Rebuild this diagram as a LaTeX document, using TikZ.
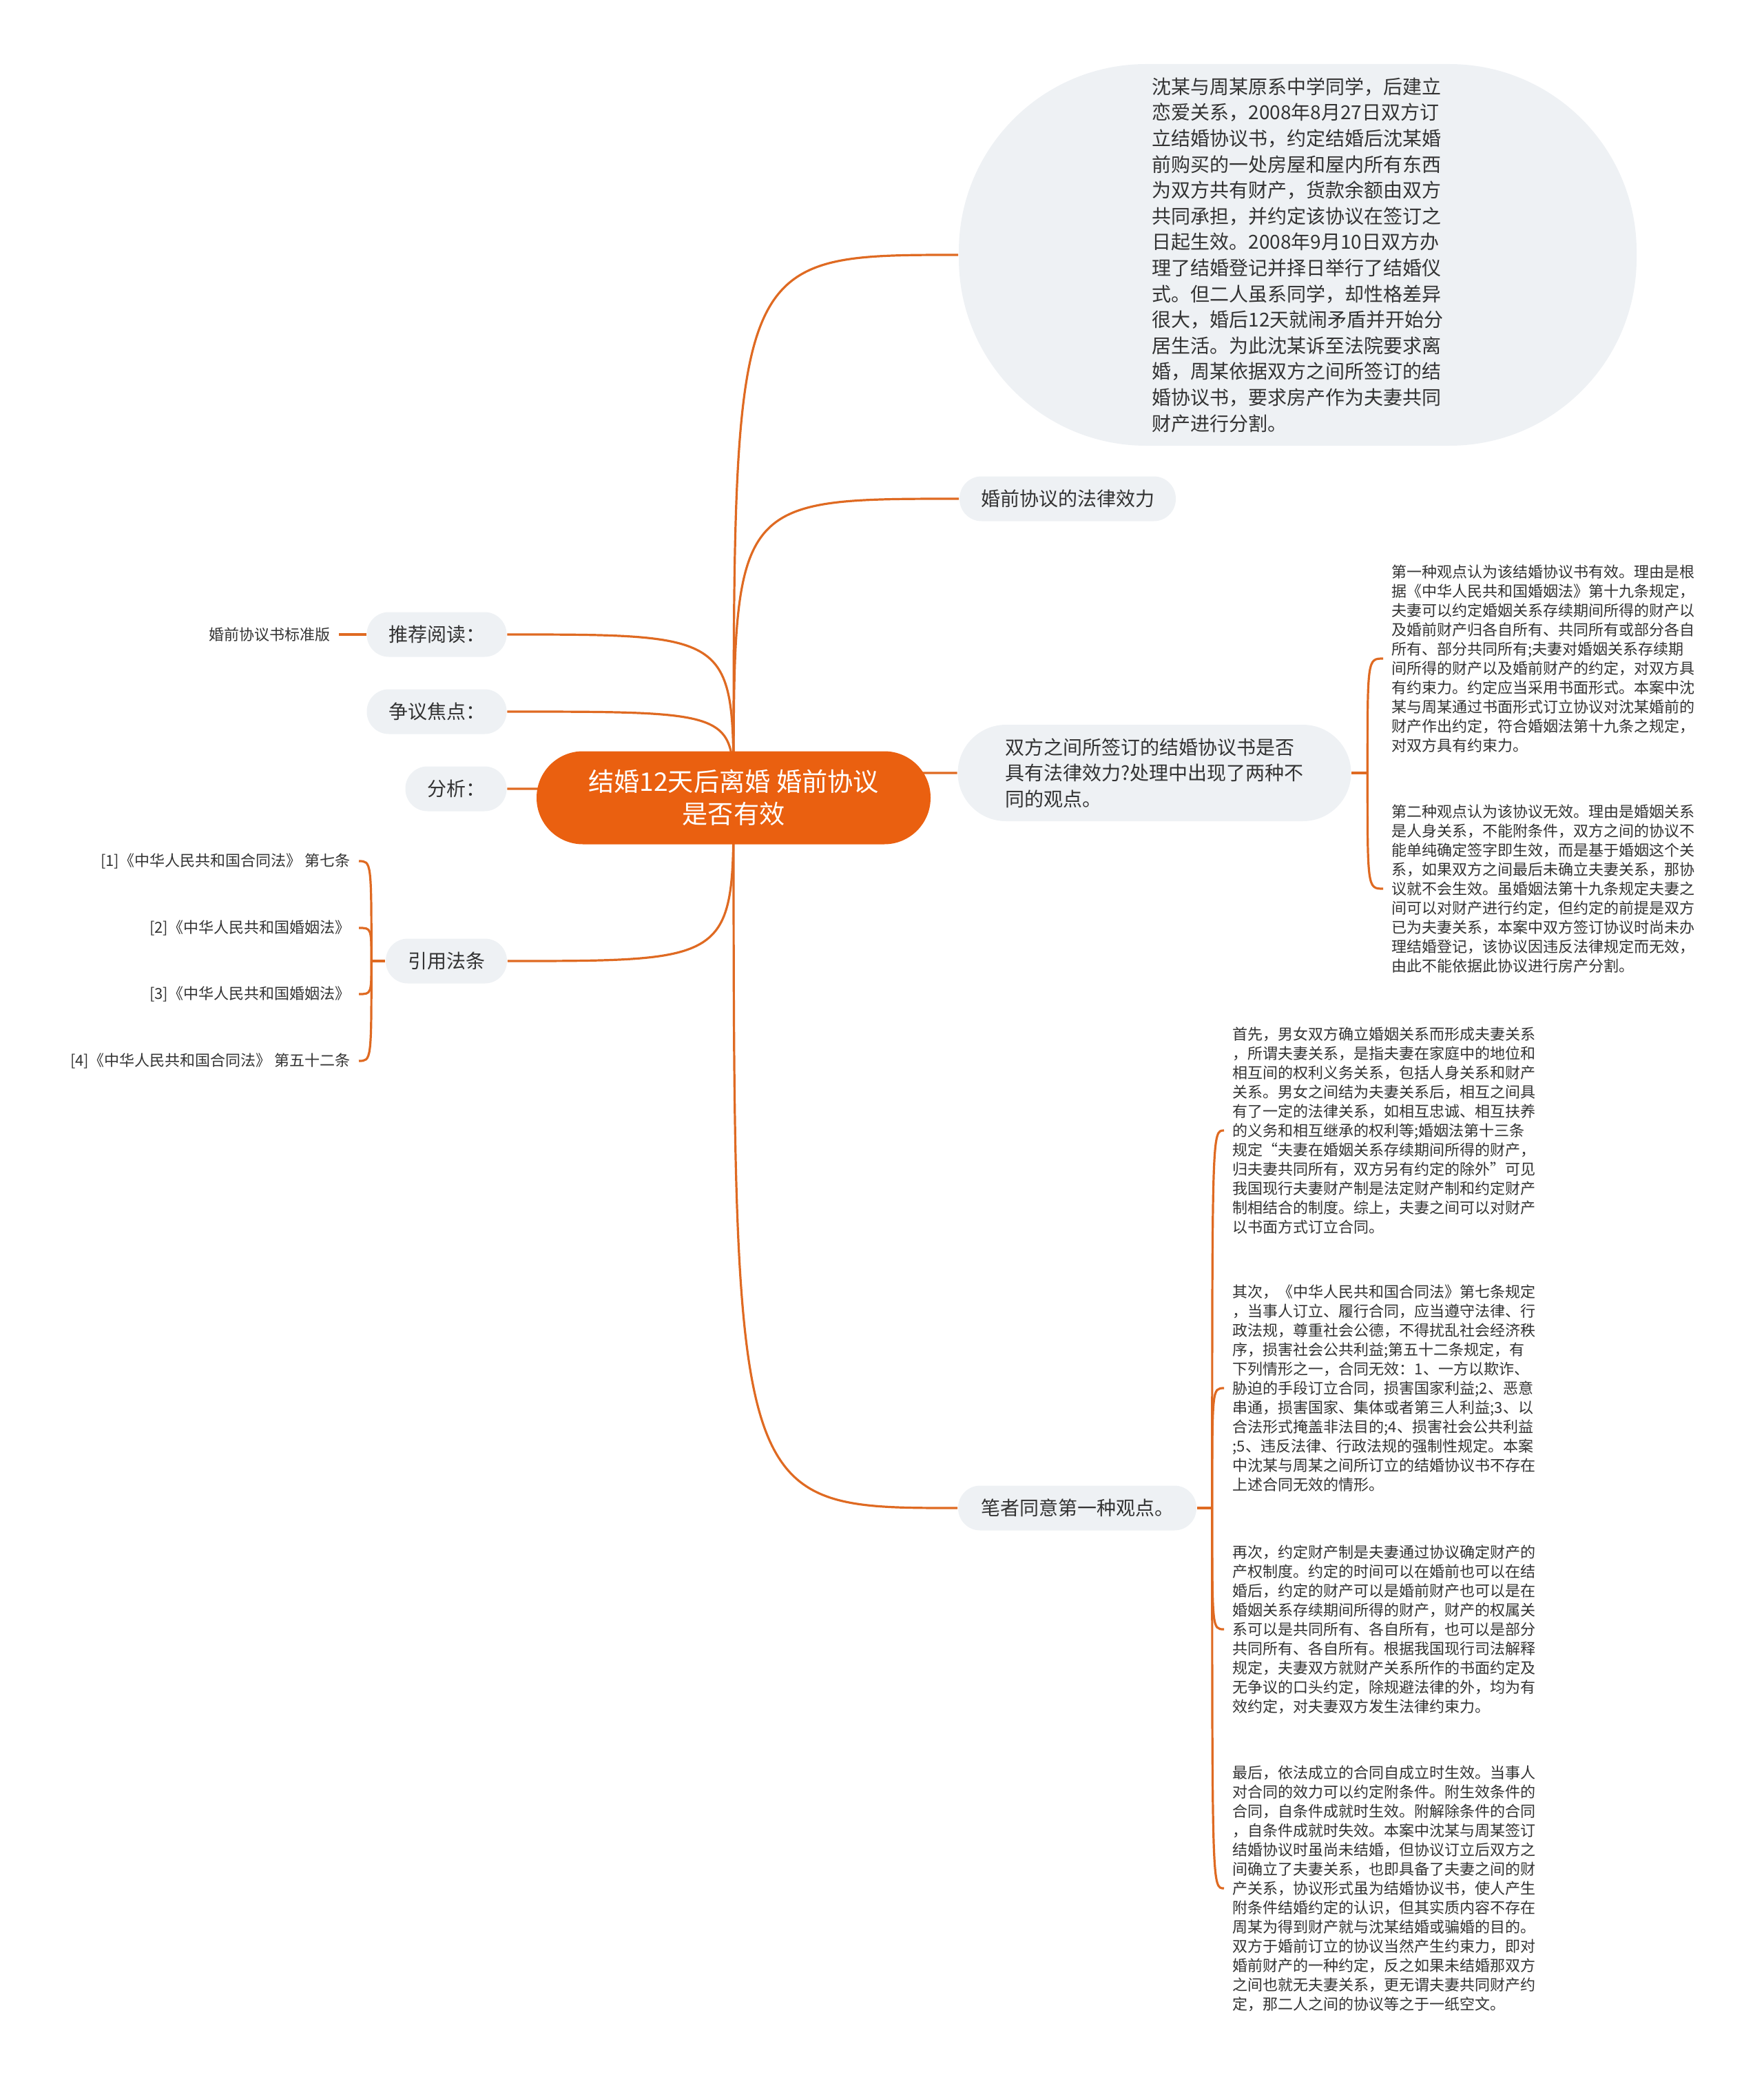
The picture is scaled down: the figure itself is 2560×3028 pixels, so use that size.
\documentclass[tikz,border=0pt]{standalone}
\usepackage{fontspec}
\setmainfont{Noto Sans CJK SC}
\usetikzlibrary{calc,backgrounds}
\definecolor{rootorange}{HTML}{EA6010}
\definecolor{linkorange}{HTML}{DF6A22}
\definecolor{topicgrey}{HTML}{EEF1F4}
\definecolor{inktext}{HTML}{333333}

\begin{document}
\begin{tikzpicture}[x=0.25pt, y=-0.25pt,
  link/.style = {draw=linkorange, line width=0.8pt},
  topic/.style = {fill=topicgrey, text=inktext, align=center,
    font=\fontsize{7pt}{9.4pt}\selectfont, rounded corners=8pt,
    minimum height=16.25pt, inner sep=0pt},
  leaf/.style = {text=inktext, align=left, inner xsep=3pt, inner ysep=0pt,
    font=\fontsize{5.5pt}{7pt}\selectfont}]
  \useasboundingbox (0,0) rectangle (2560,3028);

  % root
  \node[fill=rootorange, text=white, align=center,
    font=\fontsize{9.3pt}{11.75pt}\selectfont, rounded corners=16.8pt,
    minimum width=143pt, minimum height=33.75pt, inner sep=0pt]
    (root) at (1065,1158) {结婚12天后离婚 婚前协议\\是否有效};

  % right side
  \node[topic, align=left, minimum width=246pt, minimum height=138.5pt,
    rounded corners=68pt] (case) at (1884,370) {沈某与周某原系中学同学，后建立\\
恋爱关系，2008年8月27日双方订\\
立结婚协议书，约定结婚后沈某婚\\
前购买的一处房屋和屋内所有东西\\
为双方共有财产，货款余额由双方\\
共同承担，并约定该协议在签订之\\
日起生效。2008年9月10日双方办\\
理了结婚登记并择日举行了结婚仪\\
式。但二人虽系同学，却性格差异\\
很大，婚后12天就闹矛盾并开始分\\
居生活。为此沈某诉至法院要求离\\
婚，周某依据双方之间所签订的结\\
婚协议书，要求房产作为夫妻共同\\
财产进行分割。};
  \node[topic, minimum width=78.5pt] (effect) at (1550,724) {婚前协议的法律效力};
  \node[topic, align=left, minimum width=142.75pt, minimum height=35pt,
    rounded corners=17.5pt] (question) at (1676,1122) {双方之间所签订的结婚协议书是否\\
具有法律效力?处理中出现了两种不\\
同的观点。};
  \node[topic, minimum width=86.5pt] (author) at (1564,2189) {笔者同意第一种观点。};

  \node[leaf, anchor=west] (view1) at (2008,956) {第一种观点认为该结婚协议书有效。理由是根\\
据《中华人民共和国婚姻法》第十九条规定，\\
夫妻可以约定婚姻关系存续期间所得的财产以\\
及婚前财产归各自所有、共同所有或部分各自\\
所有、部分共同所有;夫妻对婚姻关系存续期\\
间所得的财产以及婚前财产的约定，对双方具\\
有约束力。约定应当采用书面形式。本案中沈\\
某与周某通过书面形式订立协议对沈某婚前的\\
财产作出约定，符合婚姻法第十九条之规定，\\
对双方具有约束力。};
  \node[leaf, anchor=west] (view2) at (2008,1290) {第二种观点认为该协议无效。理由是婚姻关系\\
是人身关系，不能附条件，双方之间的协议不\\
能单纯确定签字即生效，而是基于婚姻这个关\\
系，如果双方之间最后未确立夫妻关系，那协\\
议就不会生效。虽婚姻法第十九条规定夫妻之\\
间可以对财产进行约定，但约定的前提是双方\\
已为夫妻关系，本案中双方签订协议时尚未办\\
理结婚登记，该协议因违反法律规定而无效，\\
由此不能依据此协议进行房产分割。};

  \node[leaf, anchor=west] (reason1) at (1777,1641) {首先，男女双方确立婚姻关系而形成夫妻关系\\
，所谓夫妻关系，是指夫妻在家庭中的地位和\\
相互间的权利义务关系，包括人身关系和财产\\
关系。男女之间结为夫妻关系后，相互之间具\\
有了一定的法律关系，如相互忠诚、相互扶养\\
的义务和相互继承的权利等;婚姻法第十三条\\
规定“夫妻在婚姻关系存续期间所得的财产，\\
归夫妻共同所有，双方另有约定的除外”可见\\
我国现行夫妻财产制是法定财产制和约定财产\\
制相结合的制度。综上，夫妻之间可以对财产\\
以书面方式订立合同。};
  \node[leaf, anchor=west] (reason2) at (1777,2015) {其次，《中华人民共和国合同法》第七条规定\\
，当事人订立、履行合同，应当遵守法律、行\\
政法规，尊重社会公德，不得扰乱社会经济秩\\
序，损害社会公共利益;第五十二条规定，有\\
下列情形之一，合同无效：1、一方以欺诈、\\
胁迫的手段订立合同，损害国家利益;2、恶意\\
串通，损害国家、集体或者第三人利益;3、以\\
合法形式掩盖非法目的;4、损害社会公共利益\\
;5、违反法律、行政法规的强制性规定。本案\\
中沈某与周某之间所订立的结婚协议书不存在\\
上述合同无效的情形。};
  \node[leaf, anchor=west] (reason3) at (1777,2365) {再次，约定财产制是夫妻通过协议确定财产的\\
产权制度。约定的时间可以在婚前也可以在结\\
婚后，约定的财产可以是婚前财产也可以是在\\
婚姻关系存续期间所得的财产，财产的权属关\\
系可以是共同所有、各自所有，也可以是部分\\
共同所有、各自所有。根据我国现行司法解释\\
规定，夫妻双方就财产关系所作的书面约定及\\
无争议的口头约定，除规避法律的外，均为有\\
效约定，对夫妻双方发生法律约束力。};
  \node[leaf, anchor=west] (reason4) at (1777,2741) {最后，依法成立的合同自成立时生效。当事人\\
对合同的效力可以约定附条件。附生效条件的\\
合同，自条件成就时生效。附解除条件的合同\\
，自条件成就时失效。本案中沈某与周某签订\\
结婚协议时虽尚未结婚，但协议订立后双方之\\
间确立了夫妻关系，也即具备了夫妻之间的财\\
产关系，协议形式虽为结婚协议书，使人产生\\
附条件结婚约定的认识，但其实质内容不存在\\
周某为得到财产就与沈某结婚或骗婚的目的。\\
双方于婚前订立的协议当然产生约束力，即对\\
婚前财产的一种约定，反之如果未结婚那双方\\
之间也就无夫妻关系，更无谓夫妻共同财产约\\
定，那二人之间的协议等之于一纸空文。};

  % left side
  \node[topic, minimum width=50.75pt] (reading) at (634,921) {推荐阅读：};
  \node[topic, minimum width=50.75pt] (focus) at (634,1033) {争议焦点：};
  \node[topic, minimum width=36.75pt] (analysis) at (662,1145) {分析：};
  \node[topic, minimum width=44pt] (laws) at (648,1395) {引用法条};

  \node[leaf, anchor=east] (template) at (492,921) {婚前协议书标准版};
  \node[leaf, anchor=east] (law1) at (521,1250) {[1]《中华人民共和国合同法》 第七条};
  \node[leaf, anchor=east] (law2) at (521,1347) {[2]《中华人民共和国婚姻法》};
  \node[leaf, anchor=east] (law3) at (521,1443) {[3]《中华人民共和国婚姻法》};
  \node[leaf, anchor=east] (law4) at (521,1540) {[4]《中华人民共和国合同法》 第五十二条};

  % connectors
  \begin{scope}[on background layer]
    \foreach \n in {case,effect,question,author}
      \draw[link] (root.center) .. controls (root.center |- \n.west) .. (\n.west);
    \foreach \n in {reading,focus,analysis,laws}
      \draw[link] (root.center) .. controls (root.center |- \n.east) .. (\n.east);
    \draw[link] (reading.west) -- (template.east);

    \coordinate (lawfork) at ($(laws.west)+(-20,0)$);
    \draw[link] (laws.west) -- (lawfork);
    \foreach \n in {law1,law2,law3,law4}
      \draw[link] (lawfork) .. controls (lawfork |- \n.east) .. (\n.east);

    \coordinate (viewfork) at ($(question.east)+(23,0)$);
    \draw[link] (question.east) -- (viewfork);
    \foreach \n in {view1,view2}
      \draw[link] (viewfork) .. controls (viewfork |- \n.west) .. (\n.west);

    \coordinate (reasonfork) at ($(author.east)+(22,0)$);
    \draw[link] (author.east) -- (reasonfork);
    \foreach \n in {reason1,reason2,reason3,reason4}
      \draw[link] (reasonfork) .. controls (reasonfork |- \n.west) .. (\n.west);
  \end{scope}
\end{tikzpicture}
\end{document}
